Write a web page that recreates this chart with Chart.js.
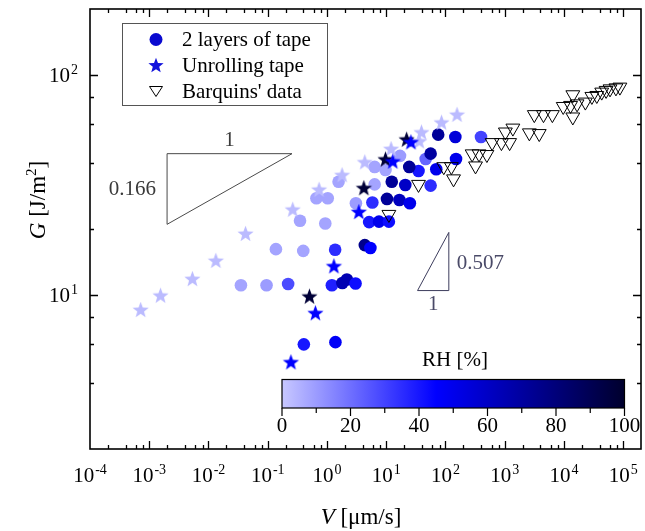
<!DOCTYPE html>
<html>
<head>
<meta charset="utf-8">
<script src="https://cdn.jsdelivr.net/npm/chart.js@4.4.1/dist/chart.umd.min.js"></script>
<style>
  html, body { margin: 0; padding: 0; background: #fff; overflow: hidden; }
  canvas { display: block; }
</style>
</head>
<body>
<canvas id="gChart" width="650" height="531"></canvas>
<script>
// 2 layers of tape: peel speed V [µm/s], energy G [J/m²], humidity RH [%]
const layersV = [0.0353, 0.0955, 0.221, 1.21, 1.82, 2.17, 3.04, 0.1375, 0.398, 1.375, 4.35, 5.41,
  0.351, 0.937, 0.664, 1.03, 1.57, 3.08, 6.38, 6.38, 9.73, 17.1, 46.4, 5.84, 5.15, 7.56, 11.1,
  35.1, 56.2, 398, 10.3, 16.7, 25.1, 12.4, 21, 24.5, 56.2, 70, 75.5, 147, 151, 0.407, 1.39];
const layersG = [11.1, 11.1, 11.25, 11.1, 11.37, 11.78, 11.3, 16.2, 15.9, 16.1, 16.9, 16.4,
  21.8, 21.2, 27.6, 27.6, 32.8, 26.2, 31.9, 38.3, 37.1, 43, 41.6, 26.4, 21.5, 21.6, 21.6,
  36.7, 31.5, 52.4, 27.4, 27.1, 26.2, 32.8, 31.7, 38.3, 44, 37.4, 53.7, 52.4, 41.6, 5.98, 6.12];
const layersRH = [8, 10, 28, 38, 65, 65, 42, 8, 8, 35, 75, 45,
  8, 8, 8, 8, 8, 10, 8, 8, 8, 10, 22, 35, 40, 50, 42,
  40, 35, 30, 72, 62, 50, 72, 60, 72, 70, 50, 72, 55, 50, 40, 47];

// unrolling tape
const unrollV = [7.16e-4, 1.55e-3, 5.35e-3, 0.0133, 0.0422, 0.264, 0.736, 1.8, 4.35, 12.1, 36.2,
  39.4, 85.8, 157, 0.507, 4.19, 9.73, 22.1, 0.638, 1.31, 3.45, 12.9, 26.1, 0.246];
const unrollG = [8.61, 10, 11.9, 14.4, 19.1, 24.6, 30.3, 35.3, 40.4, 46.4, 50.3,
  55.2, 61.2, 66.4, 9.9, 30.8, 41.6, 51.2, 8.32, 13.6, 24, 40.7, 49.8, 4.98];
const unrollRH = [3, 3, 3, 3, 3, 3, 3, 3, 3, 3, 3, 3, 3, 3, 97, 97, 97, 97, 45, 45, 45, 45, 45, 45];

// Barquins' data
const barqV = [11.1, 35.1, 93.7, 126, 137, 282, 369, 501, 322, 614, 881, 1211, 1027, 1375, 2610,
  3830, 3162, 4520, 6380, 9730, 12940, 14130, 16670, 14130, 23000, 29630, 35900, 43450, 51500,
  60000, 75500, 88100];
const barqG = [23.3, 31.9, 38.4, 38.4, 33.8, 43.9, 43.9, 43.6, 38.7, 49.4, 49.4, 49.4, 55.2, 57.5,
  54.7, 54.3, 66.2, 66.2, 66.2, 72.1, 72.9, 81.5, 74.1, 64.6, 75.5, 80.1, 80.9, 83.8, 85.3,
  86.7, 87.6, 88.3];

// slope guides (corners in data units)
const slopeLowV = [0.002, 0.257, 0.002, 0.002];
const slopeLowG = [44, 44, 21, 44];
const slopeHighV = [33.8, 114, 114, 33.8];
const slopeHighG = [10.5, 10.5, 19.3, 10.5];

const xTickExp = [-4, -3, -2, -1, 0, 1, 2, 3, 4, 5];
const yTickExp = [1, 2];
const rhTicks = [0, 20, 40, 60, 80, 100];

const SERIF = '"Liberation Serif", "Times New Roman", serif';

// RH colour scale: pale lavender -> blue -> near black
const rhStops = [
  [0, [200, 200, 255]],
  [45, [0, 0, 255]],
  [100, [0, 0, 45]],
];
function rhColor(rh) {
  for (let i = 1; i < rhStops.length; i++) {
    const [r1, c1] = rhStops[i];
    const [r0, c0] = rhStops[i - 1];
    if (rh <= r1) {
      const t = (rh - r0) / (r1 - r0);
      const c = c0.map((v, k) => Math.round(v + (c1[k] - v) * t));
      return `rgb(${c[0]},${c[1]},${c[2]})`;
    }
  }
  return 'rgb(0,0,45)';
}

// filled five-point star as an image, cached per colour
const starCache = {};
function starImage(color, r) {
  const key = color + '|' + r;
  if (starCache[key]) return starCache[key];
  const c = document.createElement('canvas');
  const s = Math.ceil(r * 2 + 2);
  c.width = s;
  c.height = s;
  const g = c.getContext('2d');
  g.beginPath();
  for (let i = 0; i < 10; i++) {
    const rad = i % 2 ? r * 0.42 : r;
    const a = -Math.PI / 2 + (i * Math.PI) / 5;
    g.lineTo(s / 2 + rad * Math.cos(a), s / 2 + 0.8 + rad * Math.sin(a));
  }
  g.closePath();
  g.fillStyle = color;
  g.fill();
  starCache[key] = c;
  return c;
}

const toPoints = (xs, ys) => xs.map((v, i) => ({ x: v, y: ys[i] }));

// "10" with a raised exponent
function drawPow(ctx, exp, x, y, align) {
  ctx.font = '21px ' + SERIF;
  const wb = ctx.measureText('10').width;
  ctx.font = '14px ' + SERIF;
  const we = ctx.measureText(String(exp)).width;
  const total = wb + 1 + we;
  const x0 = align === 'right' ? x - total : x - total / 2;
  ctx.textAlign = 'left';
  ctx.textBaseline = 'alphabetic';
  ctx.font = '21px ' + SERIF;
  ctx.fillText('10', x0, y);
  ctx.font = '14px ' + SERIF;
  ctx.fillText(String(exp), x0 + wb + 1, y - 8);
}

const decor = {
  id: 'decor',
  afterDraw(chart) {
    const { ctx, chartArea: a, scales } = chart;
    const xs = scales.x, ys = scales.y;
    ctx.save();

    // frame
    ctx.strokeStyle = '#000';
    ctx.lineWidth = 1.6;
    ctx.strokeRect(a.left, a.top, a.right - a.left, a.bottom - a.top);

    // inward ticks on all four sides
    ctx.lineWidth = 1.3;
    ctx.beginPath();
    for (let e = -4; e <= 5; e++) {
      [1, 2, 4, 6, 8].forEach((m) => {
        const v = m * Math.pow(10, e);
        if (v <= 1e-4 || v >= 2e5) return;
        const px = Math.round(xs.getPixelForValue(v)) + 0.5;
        const len = m === 1 ? 8 : 4;
        ctx.moveTo(px, a.bottom); ctx.lineTo(px, a.bottom - len);
        ctx.moveTo(px, a.top); ctx.lineTo(px, a.top + len);
      });
    }
    for (let e = 0; e <= 2; e++) {
      [1, 2, 4, 6, 8].forEach((m) => {
        const v = m * Math.pow(10, e);
        if (v <= 2 || v >= 200) return;
        const py = Math.round(ys.getPixelForValue(v)) + 0.5;
        const len = m === 1 ? 8 : 4;
        ctx.moveTo(a.left, py); ctx.lineTo(a.left + len, py);
        ctx.moveTo(a.right, py); ctx.lineTo(a.right - len, py);
      });
    }
    ctx.stroke();

    // tick labels
    ctx.fillStyle = '#000';
    xTickExp.forEach((e) => drawPow(ctx, e, xs.getPixelForValue(Math.pow(10, e)), 482, 'center'));
    yTickExp.forEach((e) => drawPow(ctx, e, 78, ys.getPixelForValue(Math.pow(10, e)) + 7, 'right'));

    // x title: V [µm/s]
    ctx.textBaseline = 'alphabetic';
    ctx.textAlign = 'left';
    ctx.font = 'italic 23px ' + SERIF;
    const wV = ctx.measureText('V').width;
    ctx.font = '23px ' + SERIF;
    const wRest = ctx.measureText(' [\u03bcm/s]').width;
    const x0 = 361 - (wV + wRest) / 2;
    ctx.font = 'italic 23px ' + SERIF;
    ctx.fillText('V', x0, 524);
    ctx.font = '23px ' + SERIF;
    ctx.fillText(' [\u03bcm/s]', x0 + wV, 524);

    // y title: G [J/m²]
    ctx.save();
    ctx.translate(37, 200);
    ctx.rotate(-Math.PI / 2);
    ctx.font = 'italic 23px ' + SERIF;
    const wG = ctx.measureText('G').width;
    ctx.font = '23px ' + SERIF;
    const w1 = ctx.measureText(' [J/m').width;
    const w3 = ctx.measureText(']').width;
    ctx.font = '15px ' + SERIF;
    const w2 = ctx.measureText('2').width;
    let t = -(wG + w1 + w2 + w3) / 2;
    ctx.font = 'italic 23px ' + SERIF;
    ctx.fillText('G', t, 8); t += wG;
    ctx.font = '23px ' + SERIF;
    ctx.fillText(' [J/m', t, 8); t += w1;
    ctx.font = '15px ' + SERIF;
    ctx.fillText('2', t, -1); t += w2;
    ctx.font = '23px ' + SERIF;
    ctx.fillText(']', t, 8);
    ctx.restore();

    // slope labels, placed off the guide corners
    const lowTop = ys.getPixelForValue(slopeLowG[0]);
    const lowMidY = (ys.getPixelForValue(slopeLowG[0]) + ys.getPixelForValue(slopeLowG[2])) / 2;
    const lowL = xs.getPixelForValue(slopeLowV[0]);
    const lowR = xs.getPixelForValue(slopeLowV[1]);
    ctx.font = '21px ' + SERIF;
    ctx.textBaseline = 'middle';
    ctx.textAlign = 'center';
    ctx.fillStyle = '#3a3a3a';
    ctx.fillText('1', (lowL + lowR) / 2, lowTop - 13);
    ctx.textAlign = 'right';
    ctx.fillText('0.166', lowL - 11, lowMidY);

    const hiBase = ys.getPixelForValue(slopeHighG[0]);
    const hiTop = ys.getPixelForValue(slopeHighG[2]);
    const hiL = xs.getPixelForValue(slopeHighV[0]);
    const hiR = xs.getPixelForValue(slopeHighV[1]);
    ctx.fillStyle = '#4a4a68';
    ctx.textAlign = 'center';
    ctx.fillText('1', (hiL + hiR) / 2, hiBase + 14);
    ctx.textAlign = 'left';
    ctx.fillText('0.507', hiR + 8, (hiBase + hiTop) / 2 + 2);

    // legend box
    ctx.fillStyle = '#fff';
    ctx.fillRect(122, 23, 205, 82);
    ctx.strokeStyle = '#555';
    ctx.lineWidth = 1;
    ctx.strokeRect(122.5, 23.5, 205, 82);
    const rows = [
      ['2 layers of tape', 39.5],
      ['Unrolling tape', 65],
      ["Barquins' data", 91],
    ];
    ctx.fillStyle = '#0a0ad0';
    ctx.beginPath();
    ctx.arc(156, rows[0][1], 6.5, 0, Math.PI * 2);
    ctx.fill();
    const st = starImage('#1212dc', 8);
    ctx.drawImage(st, 156 - st.width / 2, rows[1][1] - st.height / 2);
    ctx.strokeStyle = '#000';
    ctx.lineWidth = 1;
    ctx.beginPath();
    ctx.moveTo(149.5, rows[2][1] - 4.5);
    ctx.lineTo(162.5, rows[2][1] - 4.5);
    ctx.lineTo(156, rows[2][1] + 5.5);
    ctx.closePath();
    ctx.stroke();
    ctx.fillStyle = '#000';
    ctx.font = '21px ' + SERIF;
    ctx.textAlign = 'left';
    ctx.textBaseline = 'middle';
    rows.forEach(([txt, y]) => ctx.fillText(txt, 182, y + 1));

    // RH colour bar
    const cbL = 282, cbR = 624.5, cbT = 379.5, cbB = 408;
    const grad = ctx.createLinearGradient(cbL, 0, cbR, 0);
    rhStops.forEach(([rh]) => grad.addColorStop(rh / 100, rhColor(rh)));
    ctx.fillStyle = grad;
    ctx.fillRect(cbL, cbT, cbR - cbL, cbB - cbT);
    ctx.strokeStyle = '#000';
    ctx.lineWidth = 1.2;
    ctx.strokeRect(cbL, cbT, cbR - cbL, cbB - cbT);
    ctx.beginPath();
    for (let v = 0; v <= 100; v += 10) {
      const px = cbL + ((cbR - cbL) * v) / 100;
      ctx.moveTo(px, cbB);
      ctx.lineTo(px, cbB + (v % 20 === 0 ? 8 : 5));
    }
    ctx.stroke();
    ctx.fillStyle = '#000';
    ctx.textAlign = 'center';
    ctx.textBaseline = 'middle';
    ctx.font = '21px ' + SERIF;
    rhTicks.forEach((v) => ctx.fillText(String(v), cbL + ((cbR - cbL) * v) / 100, 426));
    ctx.fillText('RH [%]', 455, 360);

    ctx.restore();
  },
};

new Chart(document.getElementById('gChart'), {
  type: 'scatter',
  data: {
    datasets: [
      {
        label: "Barquins' data",
        data: toPoints(barqV, barqG),
        pointStyle: 'triangle',
        rotation: 180,
        pointRadius: 8,
        pointBorderWidth: 1,
        pointBorderColor: '#000',
        pointBackgroundColor: 'rgba(0,0,0,0)',
        order: 1,
      },
      {
        label: 'Unrolling tape',
        data: toPoints(unrollV, unrollG),
        pointStyle: unrollRH.map((rh) => starImage(rhColor(rh), 8.5)),
        pointRadius: 8,
        order: 2,
      },
      {
        label: '2 layers of tape',
        data: toPoints(layersV, layersG),
        pointStyle: 'circle',
        pointRadius: 6.3,
        pointBorderWidth: 0,
        pointBackgroundColor: layersRH.map(rhColor),
        order: 3,
      },
      {
        label: 'slope 0.166',
        data: toPoints(slopeLowV, slopeLowG),
        showLine: true,
        borderColor: '#4a4a4a',
        borderWidth: 1,
        pointRadius: 0,
        order: 4,
      },
      {
        label: 'slope 0.507',
        data: toPoints(slopeHighV, slopeHighG),
        showLine: true,
        borderColor: '#3c3c5c',
        borderWidth: 1,
        pointRadius: 0,
        order: 4,
      },
    ],
  },
  options: {
    responsive: false,
    animation: false,
    devicePixelRatio: 1,
    events: [],
    layout: { padding: { top: 6, right: 2, left: 0, bottom: 0 } },
    plugins: { legend: { display: false }, tooltip: { enabled: false } },
    scales: {
      x: {
        type: 'logarithmic',
        min: 1e-4,
        max: 2e5,
        ticks: { display: false },
        grid: { display: false },
        border: { display: false },
        afterFit: (s) => { s.height = 82; },
      },
      y: {
        type: 'logarithmic',
        min: 2,
        max: 200,
        ticks: { display: false },
        grid: { display: false },
        border: { display: false },
        afterFit: (s) => { s.width = 90; },
      },
    },
  },
  plugins: [decor],
});
</script>
</body>
</html>
